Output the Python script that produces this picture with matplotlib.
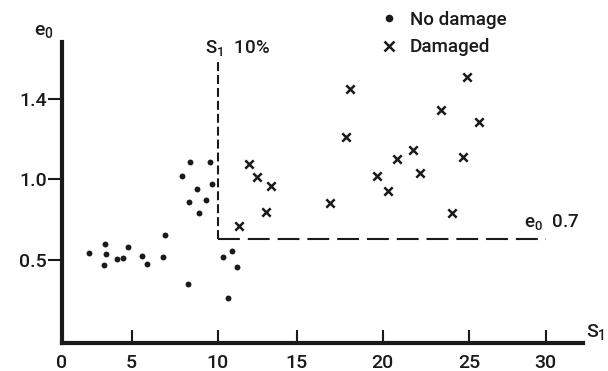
import numpy as np
import matplotlib
matplotlib.use("Agg")
import matplotlib.pyplot as plt
from matplotlib.lines import Line2D

plt.rcParams['font.family'] = ['Roboto', 'DejaVu Sans']
plt.rcParams['font.weight'] = 'medium'
plt.rcParams['mathtext.fontset'] = 'custom'
plt.rcParams['mathtext.rm'] = 'Roboto:semibold'
plt.rcParams['mathtext.default'] = 'regular'

INK = '#1a1a1a'

# Specimens without damage: strain S1 (%) and void ratio e0
s1_ok = [8.39, 9.55, 7.94, 9.65, 8.78, 8.35, 9.32, 8.93, 6.94, 3.08, 4.76, 1.94,
         3.13, 3.92, 4.40, 5.58, 5.91, 6.84, 3.01, 10.89, 10.35, 11.20, 8.26, 10.67]
e0_ok = [1.085, 1.085, 1.017, 0.975, 0.951, 0.887, 0.896, 0.829, 0.720, 0.655, 0.621, 0.564,
         0.560, 0.507, 0.516, 0.535, 0.478, 0.526, 0.470, 0.586, 0.526, 0.460, 0.355, 0.273]

# Damaged specimens
s1_dmg = [11.37, 11.96, 12.47, 13.39, 13.04, 16.94, 17.85, 18.10, 19.65,
          20.32, 20.81, 21.76, 22.16, 23.36, 24.67, 24.87, 25.67, 24.00]
e0_dmg = [0.764, 1.078, 1.012, 0.965, 0.835, 0.882, 1.210, 1.452, 1.018,
          0.943, 1.100, 1.147, 1.030, 1.347, 1.110, 1.510, 1.288, 0.832]

x_ticks = [0, 5, 10, 15, 20, 25, 30]
x_tick_labels = ['0', '5', '10', '15', '20', '25', '30']
y_ticks = [0.5, 1.0, 1.4]
y_tick_labels = ['0.5', '1.0', '1.4']

s1_limit = 10.0      # S1 = 10 %
e0_limit = 0.7       # e0 = 0.7
s1_line_top = 1.6

# The axes are ruled unevenly: each labelled value sits at its own ruled position
x_rule_val = [-5, 0, 5, 10, 15, 20, 25, 30, 35]
x_rule_pos = [-7.7, 0.0, 69.7, 155.7, 234.7, 320.7, 407.0, 483.7, 560.4]
y_rule_val = [-1.0, 0.0, 0.5, 0.7, 1.0, 1.4, 2.5]
y_rule_pos = [-166.0, 0.0, 83.0, 104.0, 163.7, 243.7, 463.7]


def ruled_scale(vals, pos):
    vals = np.asarray(vals, float)
    pos = np.asarray(pos, float)
    return (lambda v: np.interp(v, vals, pos),
            lambda p: np.interp(p, pos, vals))


W, H = 608, 371
fig = plt.figure(figsize=(W / 100, H / 100), dpi=100)
ax = fig.add_axes([62 / W, (H - 343) / H, (583 - 62) / W, (343 - 42) / H])

ax.set_xscale('function', functions=ruled_scale(x_rule_val, x_rule_pos))
ax.set_yscale('function', functions=ruled_scale(y_rule_val, y_rule_pos))
ax.set_xlim(0, 32.43)
ax.set_ylim(0, 1.687)

ax.scatter(s1_ok, e0_ok, s=18, marker='o', color=INK, linewidths=0, zorder=3)
ax.scatter(s1_dmg, e0_dmg, s=36, marker='x', color=INK, linewidths=1.8, zorder=3)

# Threshold lines
ax.plot([s1_limit, s1_limit], [e0_limit, s1_line_top], color=INK, lw=1.5,
        dashes=(4.3, 1.9), solid_capstyle='butt')
ax.plot([s1_limit, 30], [e0_limit, e0_limit], color=INK, lw=1.5,
        dashes=(10.5, 3.8), solid_capstyle='butt')

ax.text(s1_limit - 0.75, s1_line_top + 0.005, 'S$_1$  10%', fontsize=13.5,
        color=INK, ha='left', va='bottom')
ax.text(28.6, e0_limit + 0.035, 'e$_0$  0.7', fontsize=13.5, color=INK,
        ha='left', va='bottom')

# Axes styling
for side in ('top', 'right'):
    ax.spines[side].set_visible(False)
for side in ('left', 'bottom'):
    ax.spines[side].set_linewidth(3.0)
    ax.spines[side].set_color(INK)

ax.set_xticks(x_ticks)
ax.set_xticklabels(x_tick_labels)
ax.set_yticks(y_ticks)
ax.set_yticklabels(y_tick_labels)
ax.tick_params(axis='x', direction='in', length=9.5, width=1.5, pad=8,
               labelsize=14, colors=INK)
ax.tick_params(axis='y', direction='out', length=10, width=1.5, pad=1,
               labelsize=14, colors=INK)
ax.minorticks_off()

fig.text(44 / W, 1 - 31 / H, 'e$_0$', fontsize=14, color=INK,
         ha='center', va='center')
fig.text(596 / W, 1 - 332 / H, 'S$_1$', fontsize=14, color=INK,
         ha='center', va='center')

handles = [Line2D([], [], ls='none', marker='o', ms=5.5, color=INK, mew=0),
           Line2D([], [], ls='none', marker='x', ms=6.5, color=INK, mew=1.8)]
fig.legend(handles, ['No damage', 'Damaged'], loc='upper left',
           bbox_to_anchor=(380 / W, 1 - 11 / H), frameon=False, fontsize=13.5,
           handlelength=1.0, handletextpad=0.6, labelspacing=0.5,
           borderpad=0, borderaxespad=0, labelcolor=INK)

fig.savefig('out.png', dpi=100, facecolor='white')
